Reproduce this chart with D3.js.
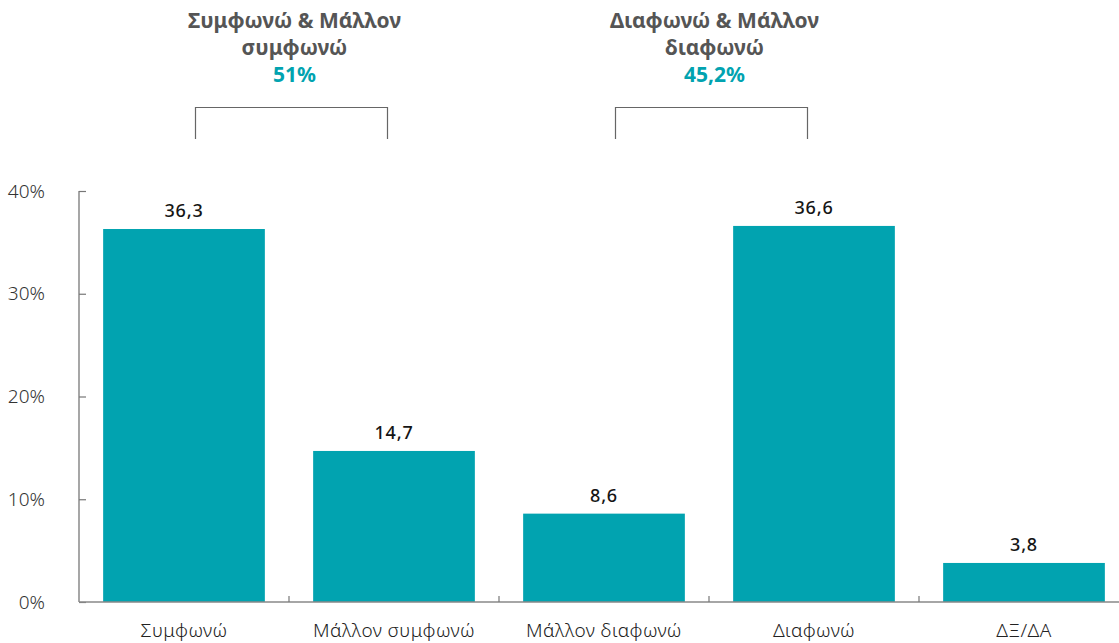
<!DOCTYPE html>
<html>
<head>
<meta charset="utf-8">
<script src="https://cdn.jsdelivr.net/npm/d3@7"></script>
<style>
  html, body { margin: 0; padding: 0; background: #fff; }
  svg { display: block; }
</style>
</head>
<body>
<svg id="chart" width="1119" height="643"></svg>
<script>
// Response categories and their shares (%)
const categories = ["Συμφωνώ", "Μάλλον συμφωνώ", "Μάλλον διαφωνώ", "Διαφωνώ", "ΔΞ/ΔΑ"];
const values = [36.3, 14.7, 8.6, 36.6, 3.8];
const valueLabels = ["36,3", "14,7", "8,6", "36,6", "3,8"];
const yTicks = [0, 10, 20, 30, 40];

// Grouped totals shown above the chart
const groupTitles = [["Συμφωνώ & Μάλλον", "συμφωνώ"], ["Διαφωνώ & Μάλλον", "διαφωνώ"]];
const groupTotals = ["51%", "45,2%"];
// Each group straddles the boundary between these two categories
const groupPairs = [["Συμφωνώ", "Μάλλον συμφωνώ"], ["Μάλλον διαφωνώ", "Διαφωνώ"]];

const svg = d3.select("#chart");
const teal = "#01a3b0";
const font = "'Noto Sans', sans-serif";

const x = d3.scaleBand()
  .domain(categories)
  .range([79, 1129])
  .paddingInner(0.23)
  .paddingOuter(0.115);

const y = d3.scaleLinear().domain([0, 40]).range([602, 191]);

// Bars
svg.append("g").selectAll("rect")
  .data(values)
  .join("rect")
  .attr("x", (d, i) => x(categories[i]))
  .attr("y", d => y(d))
  .attr("width", x.bandwidth())
  .attr("height", d => y(0) - y(d))
  .attr("fill", teal);

// Value labels
svg.append("g").selectAll("text")
  .data(values)
  .join("text")
  .attr("x", (d, i) => x(categories[i]) + x.bandwidth() / 2)
  .attr("y", d => y(d) - 12)
  .attr("text-anchor", "middle")
  .attr("font-family", font)
  .attr("font-size", 18)
  .attr("letter-spacing", 0.8)
  .attr("font-weight", 500)
  .attr("fill", "#151515")
  .text((d, i) => valueLabels[i]);

// Y axis
const yAxis = svg.append("g")
  .attr("transform", "translate(79,0)")
  .call(d3.axisRight(y).tickValues(yTicks).tickSize(7).tickFormat(""));
yAxis.select(".domain").attr("stroke", "#777").attr("stroke-width", 1.3).attr("d", "M0,191V602");
yAxis.selectAll(".tick line").attr("stroke", "#777").attr("stroke-width", 1.2);

svg.append("g").selectAll("text")
  .data(yTicks)
  .join("text")
  .attr("x", 45)
  .attr("y", d => y(d))
  .attr("dy", "0.35em")
  .attr("text-anchor", "end")
  .attr("font-family", font)
  .attr("font-size", 19)
  .attr("font-weight", 300)
  .attr("fill", "#333")
  .text(d => d + "%");

// X axis with tick marks between categories
const xAxis = svg.append("g")
  .attr("transform", "translate(0,602)")
  .call(d3.axisTop(x).tickSize(0).tickFormat(""));
xAxis.select(".domain").attr("stroke", "#888").attr("stroke-width", 1.5).attr("d", "M79,0H1119");
xAxis.selectAll(".tick").remove();

const boundaries = categories.slice(1).map(c => x(c) - x.step() * x.paddingInner() / 2);
svg.append("g").selectAll("line")
  .data(boundaries)
  .join("line")
  .attr("x1", d => d).attr("x2", d => d)
  .attr("y1", 602).attr("y2", 596)
  .attr("stroke", "#777").attr("stroke-width", 1.2);

svg.append("g").selectAll("text")
  .data(categories)
  .join("text")
  .attr("x", d => x(d) + x.bandwidth() / 2)
  .attr("y", 630)
  .attr("dy", "0.35em")
  .attr("text-anchor", "middle")
  .attr("font-family", font)
  .attr("font-size", 19)
  .attr("letter-spacing", 0.4)
  .attr("font-weight", 300)
  .attr("fill", "#222")
  .text(d => d);

// Group brackets and totals
groupPairs.forEach((pair, i) => {
  const cx = x(pair[1]) - x.step() * x.paddingInner() / 2 + 2.5;
  const half = 96;
  svg.append("path")
    .attr("d", `M${cx - half},139V107.5H${cx + half}V139`)
    .attr("fill", "none")
    .attr("stroke", "#666")
    .attr("stroke-width", 1.2);
  const g = svg.append("g").attr("font-family", font).attr("text-anchor", "middle").attr("font-weight", 700);
  groupTitles[i].forEach((line, j) => {
    g.append("text")
      .attr("x", cx + 3)
      .attr("y", 21 + j * 27)
      .attr("dy", "0.35em")
      .attr("font-size", 21)
      .attr("fill", "#555")
      .text(line);
  });
  g.append("text")
    .attr("x", cx + 3)
    .attr("y", 75)
    .attr("dy", "0.35em")
    .attr("font-size", 21)
    .attr("fill", teal)
    .text(groupTotals[i]);
});
</script>
</body>
</html>
